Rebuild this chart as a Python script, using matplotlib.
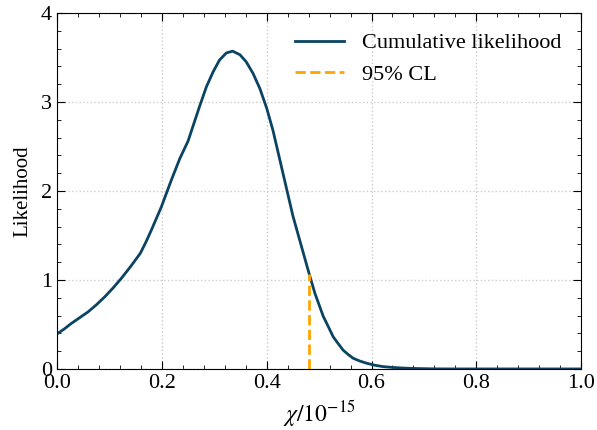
import numpy as np
import matplotlib
matplotlib.use("Agg")
import matplotlib.pyplot as plt
from matplotlib.ticker import MultipleLocator

plt.rcParams['font.family'] = ['Liberation Serif', 'DejaVu Serif']
plt.rcParams['mathtext.fontset'] = 'stix'

# likelihood curve
chi = [0.0, 0.014, 0.027, 0.043, 0.059, 0.075, 0.091, 0.107, 0.123,
       0.141, 0.159, 0.170, 0.180, 0.199, 0.218, 0.234, 0.250,
       0.259, 0.272, 0.285, 0.298, 0.310, 0.323, 0.335, 0.349, 0.361,
       0.374, 0.387, 0.400, 0.412, 0.431, 0.450, 0.470, 0.481, 0.492,
       0.500, 0.508, 0.518, 0.527, 0.537, 0.546, 0.556, 0.565, 0.578,
       0.591, 0.606, 0.622, 0.638, 0.654, 0.672, 0.690, 0.720, 0.750,
       0.850, 1.0]
like = [0.393, 0.45, 0.51, 0.575, 0.64, 0.72, 0.81, 0.91, 1.02,
        1.155, 1.30, 1.43, 1.56, 1.82, 2.12, 2.36, 2.56,
        2.72, 2.95, 3.17, 3.34, 3.47, 3.55, 3.57, 3.53, 3.45,
        3.32, 3.15, 2.93, 2.68, 2.20, 1.72, 1.30, 1.07, 0.85,
        0.72, 0.59, 0.47, 0.36, 0.28, 0.21, 0.16, 0.12, 0.088,
        0.064, 0.042, 0.026, 0.018, 0.012, 0.007, 0.004, 0.001, 0.0,
        0.0, 0.0]
cl95 = 0.481
cl95_like = 1.07

fig = plt.figure(figsize=(5.97, 4.30), dpi=100)
ax = fig.add_axes([0.0955, 0.142, 0.878, 0.828])

ax.plot(chi, like, color='#0b4462', lw=2, label='Cumulative likelihood')
ax.plot([cl95, cl95], [0, cl95_like], color='#ffa500', lw=2, ls='--', label='95% CL')

ax.set_xlim(0, 1)
ax.set_ylim(0, 4)
ax.xaxis.set_major_locator(MultipleLocator(0.2))
ax.xaxis.set_minor_locator(MultipleLocator(0.04))
ax.yaxis.set_major_locator(MultipleLocator(1))
ax.yaxis.set_minor_locator(MultipleLocator(0.2))
ax.tick_params(which='both', direction='in', top=True, right=True, labelsize=16)
ax.tick_params(which='major', length=6)
ax.tick_params(which='minor', length=3)
ax.grid(True, ls=':', color='#cccccc', lw=1)

ax.set_xlabel(r'$\chi/10^{-15}$', fontsize=17)
ax.set_ylabel('Likelihood', fontsize=15, labelpad=6)
ax.legend(frameon=False, fontsize=16, loc='upper right', handlelength=2.2)

fig.savefig('out.png', dpi=100)
